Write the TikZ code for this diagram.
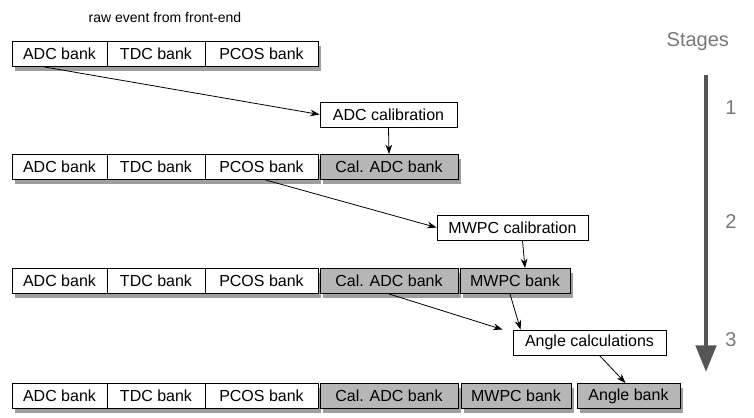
\documentclass[tikz,border=0pt]{standalone}
\usepackage{fontspec}
\setmainfont{Liberation Sans}
\usetikzlibrary{calc,arrows.meta,shadows}
\definecolor{calgray}{RGB}{182,182,182}
\definecolor{stagegray}{RGB}{85,85,85}
\definecolor{labgray}{RGB}{120,120,120}
\tikzset{
  bank/.style={draw=black, line width=0.7pt, fill=white, minimum height=18.75pt, inner sep=0pt,
    font=\fontsize{12}{14}\selectfont,
    drop shadow={shadow xshift=2.5pt, shadow yshift=-3.5pt, fill=gray!75, opacity=1}},
  calbank/.style={bank, fill=calgray},
  procbox/.style={draw=black, line width=0.7pt, fill=white, minimum height=18.75pt, inner sep=0pt,
    font=\fontsize{12}{14}\selectfont},
  flow/.style={-{Stealth[length=7pt,width=5pt]}, line width=0.6pt},
  stagelab/.style={text=labgray, font=\fontsize{15}{17}\selectfont},
}
\begin{document}
\begin{tikzpicture}[x=0.75pt,y=-0.75pt]
\useasboundingbox (0,0) rectangle (754,418);
% title
\node[font=\fontsize{10.5}{12}\selectfont] (raw) at (165,17) {raw event from front-end};
% row 1
\node[bank, minimum width=71.25pt] (a1) at (59.5,54) {ADC bank};
\node[bank, minimum width=73.5pt] (t1) at (156,54) {TDC bank};
\node[bank, minimum width=84.75pt] (p1) at (261.5,54) {PCOS bank};
% process 1
\node[procbox, minimum width=102.75pt] (adccal) at (388.5,114.5) {ADC calibration};
% row 2
\node[bank, minimum width=71.25pt] (a2) at (59.5,167) {ADC bank};
\node[bank, minimum width=73.5pt] (t2) at (156,167) {TDC bank};
\node[bank, minimum width=84.75pt] (p2) at (261.5,167) {PCOS bank};
\node[calbank, minimum width=103.5pt] (c2) at (389,167) {Cal. ADC bank};
% process 2
\node[procbox, minimum width=113.25pt] (mwpccal) at (512.5,227.5) {MWPC calibration};
% row 3
\node[bank, minimum width=71.25pt] (a3) at (59.5,281) {ADC bank};
\node[bank, minimum width=73.5pt] (t3) at (156,281) {TDC bank};
\node[bank, minimum width=84.75pt] (p3) at (261.5,281) {PCOS bank};
\node[calbank, minimum width=103.5pt] (c3) at (389,281) {Cal. ADC bank};
\node[calbank, minimum width=82.5pt] (m3) at (515,281) {MWPC bank};
% process 3
\node[procbox, minimum width=114.75pt] (anglecalc) at (589.5,342.5) {Angle calculations};
% row 4
\node[bank, minimum width=71.25pt] (a4) at (59.5,396) {ADC bank};
\node[bank, minimum width=73.5pt] (t4) at (156,396) {TDC bank};
\node[bank, minimum width=84.75pt] (p4) at (261.5,396) {PCOS bank};
\node[calbank, minimum width=103.5pt] (c4) at (389,396) {Cal. ADC bank};
\node[calbank, minimum width=82.5pt] (m4) at (516,396) {MWPC bank};
\node[calbank, minimum width=77.25pt] (ang4) at (628.5,396) {Angle bank};
% connectors
\draw[flow] ($(a1.south)+(-15,0)$) -- (adccal.west);
\draw[flow] (adccal.south) -- (c2.north);
\draw[flow] ($(p2.south)+(4,0)$) -- (mwpccal.west);
\draw[flow] ($(mwpccal.south)+(10,0)$) -- ($(m3.north)+(10,0)$);
\draw[flow] (c3.south) -- ($(anglecalc.north west)+(-10,0)$);
\draw[flow] ($(m3.south)+(-5,0)$) -- ($(anglecalc.north west)+(8,0)$);
\draw[flow] ($(anglecalc.south)+(10,0)$) -- ($(ang4.north)+(-3,0)$);
% stages
\node[stagelab, anchor=west] (stg) at (662,42) {Stages};
\coordinate (s0) at (706,75);
\coordinate (s1) at (706,372);
\draw[stagegray, line width=3.5pt, -{Triangle[length=20pt,width=15pt]}] (s0) -- (s1);
\node[stagelab] (n1) at (731,108) {1};
\node[stagelab] (n2) at (731,222) {2};
\node[stagelab] (n3) at (731,340) {3};
\end{tikzpicture}
\end{document}
